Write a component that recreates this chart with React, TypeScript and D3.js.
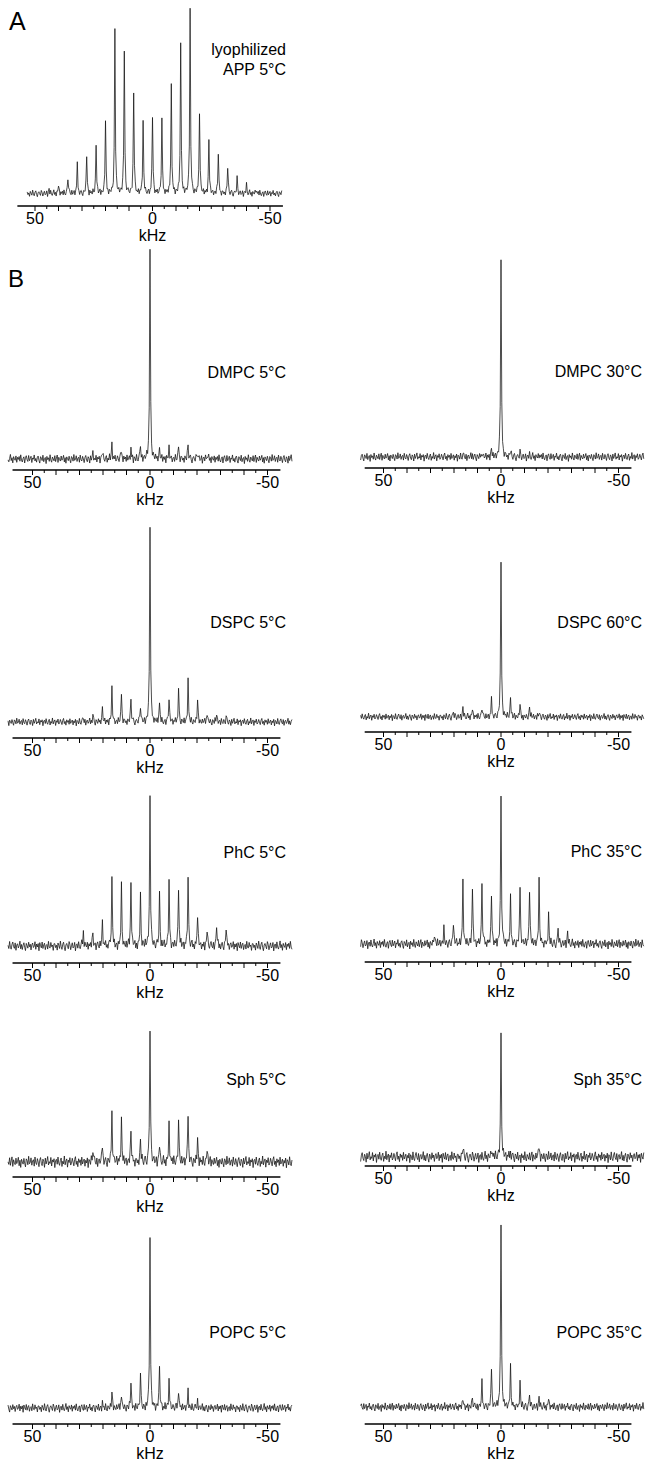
import React from "react";
import * as d3 from "d3";

// Sideband orders (n), frequency = n * spinning rate (kHz)
const sidebandOrders = [11, 10, 9, 8, 7, 6, 5, 4, 3, 2, 1, 0, -1, -2, -3, -4, -5, -6, -7, -8, -9, -10, -11];

// Relative sideband intensities (% of the tallest line in each spectrum), order 11 ... -11
const appLyophilized5 = [2, 4.5, 9, 15.5, 21, 26, 39, 89, 78, 55, 39, 42, 40, 58.5, 81, 100, 44.5, 29, 22, 14.5, 8, 4.5, 2];
const dmpc5 = [0, 0, 0, 0, 0, 2, 3, 7, 4, 5, 6, 100, 4, 5, 6, 7, 3, 2, 0, 0, 0, 0, 0];
const dmpc30 = [0, 0, 0, 0, 0, 0, 0, 1, 1, 2, 4, 100, 3, 2, 1, 1, 0, 0, 0, 0, 0, 0, 0];
const dspc5 = [0, 0, 0, 0, 2, 3.6, 6.6, 16.8, 14.2, 11.7, 8.1, 100, 9.6, 12.2, 16.2, 21.2, 10.7, 5.1, 3.6, 2.5, 0, 0, 0];
const dspc60 = [0, 0, 0, 0, 0, 0, 3.2, 5.7, 5.1, 6.4, 10.8, 100, 12.1, 7.6, 5.7, 3.2, 0, 0, 0, 0, 0, 0, 0];
const phc5 = [0, 0, 0, 0, 9.5, 9.5, 15.6, 45, 40, 43, 34, 100, 35, 43.5, 40, 47, 21, 11, 13.6, 12.2, 0, 0, 0];
const phc35 = [0, 0, 0, 0, 7.4, 10, 15.4, 41.6, 37.6, 40.3, 32.9, 100, 30.2, 38.3, 37.6, 41.6, 19.5, 10.7, 7.4, 0, 0, 0, 0];
const sph5 = [0, 0, 0, 0, 0, 9.7, 12.7, 36.6, 30.6, 23.9, 16.4, 100, 12.7, 27.6, 29.9, 35.8, 17.9, 9.7, 0, 0, 0, 0, 0];
const sph35 = [0, 0, 0, 0, 0, 0, 0, 8, 0, 0, 5.8, 100, 4.2, 0, 0, 10, 0, 0, 0, 0, 0, 0, 0];
const popc5 = [0, 0, 0, 0, 0, 0, 3, 8.8, 8.8, 14.7, 19.4, 100, 24.7, 16.5, 10.6, 10, 4.1, 0, 0, 0, 0, 0, 0];
const popc35 = [0, 0, 0, 0, 0, 0, 0, 4.3, 5.4, 12.9, 20.4, 100, 21, 12.9, 6.5, 4.8, 4.8, 0, 0, 0, 0, 0, 0];

// Baseline noise record (normalised), reused with a different start per spectrum
const baselineNoise = [
  0.42, -0.31, 0.15, -0.78, 0.56, 0.08, -0.47, 0.91, -0.12, -0.64,
  0.33, 0.71, -0.25, -0.89, 0.18, 0.47, -0.06, -0.53, 0.82, 0.27,
  -0.71, 0.04, 0.59, -0.38, -0.15, 0.66, -0.92, 0.21, 0.38, -0.44,
  0.77, -0.19, -0.58, 0.12, 0.95, -0.33, 0.26, -0.81, 0.49, 0.03,
  -0.27, 0.64, -0.69, 0.35, -0.09, 0.52, -0.46, 0.87, -0.21, -0.62,
  0.14, 0.45, -0.83, 0.29, 0.68, -0.17, -0.51, 0.73, -0.36, 0.09,
  0.57, -0.74, 0.22, -0.05, 0.84, -0.41, 0.11, -0.66, 0.39, 0.61,
  -0.28, -0.85, 0.48, 0.17, -0.34, 0.79, -0.57, 0.06, 0.32, -0.96,
  0.54, -0.13, 0.25, -0.49, 0.88, -0.23, -0.67, 0.41, 0.02, -0.39,
  0.69, -0.54, 0.19, 0.83, -0.72, 0.36, -0.11, -0.43, 0.62, -0.26,
  0.13, 0.76, -0.61, 0.28, -0.88, 0.44, 0.07, -0.35, 0.58, -0.18,
  -0.79, 0.51, 0.24, -0.45, 0.93, -0.29, -0.07, 0.67, -0.52, 0.16,
  0.37, -0.68, 0.81, -0.14, -0.42, 0.55, 0.01, -0.76, 0.31, 0.72,
  -0.22, -0.59, 0.46, 0.1, -0.87, 0.63, -0.32, 0.2, 0.89, -0.48,
  0.05, -0.24, 0.74, -0.65, 0.34, -0.02, 0.53, -0.91, 0.23, 0.43,
  -0.37, 0.8, -0.16, -0.55, 0.27, 0.65, -0.73, 0.12, -0.3, 0.97,
  -0.46, 0.18, 0.5, -0.84, 0.3, -0.1, 0.7, -0.5, -0.2, 0.6,
  0.0, -0.63, 0.4, 0.86, -0.4, 0.15, -0.77, 0.52, -0.08, 0.35,
  -0.56, 0.78, -0.33, 0.09, 0.47, -0.7, 0.26, -0.18, 0.64, -0.94,
  0.38, 0.11, -0.48, 0.85, -0.27, -0.6, 0.32, 0.75, -0.13, -0.44,
  0.58, -0.81, 0.19, 0.42, -0.36, 0.04, 0.9, -0.53, 0.28, -0.66,
  0.14, 0.61, -0.23, -0.86, 0.49, 0.08, -0.41, 0.71, -0.15, 0.33,
  -0.74, 0.22, 0.56, -0.29, -0.05, 0.8, -0.62, 0.37, -0.19, 0.45,
  -0.9, 0.63, 0.06, -0.35, 0.74, -0.47, 0.2, 0.52, -0.69, 0.1,
  0.29, -0.58, 0.87, -0.24, -0.4, 0.66, -0.12, 0.17, -0.83, 0.44,
];

// Axis ticks (kHz)
const tickValues = [50, 45, 40, 35, 30, 25, 20, 15, 10, 5, 0, -5, -10, -15, -20, -25, -30, -35, -40, -45, -50];
const tickLabels = [50, 0, -50];

const FONT = "'Liberation Sans', Arial, Helvetica, sans-serif";

// number of acquisition points per sideband spacing
const POINTS_PER_SIDEBAND = 12;

type Panel = {
  title: string[];
  values: number[];
  spin: number;
  gamma: number;
  noise: number;
  noiseStart: number;
  x50: number;
  xm50: number;
  baseY: number;
  topY: number;
  axisY: number;
  trace: [number, number];
  axis: [number, number];
  titleX: number;
  titleY: number;
};

const LEFT = { x50: 32.5, xm50: 267.5, titleX: 286 };
const RIGHT = { x50: 383.5, xm50: 618.5, titleX: 642 };

const panels: Panel[] = [
  { title: ["lyophilized", "APP 5°C"], values: appLyophilized5, spin: 4.0, gamma: 0.2, noise: 2.0, noiseStart: 0,
    x50: 35, xm50: 270, baseY: 193.5, topY: 10, axisY: 206, trace: [53.5, -55], axis: [57.5, -55.5], titleX: 286, titleY: 55 },
  { title: ["DMPC 5°C"], values: dmpc5, spin: 4.05, gamma: 0.2, noise: 2.3, noiseStart: 31, ...LEFT,
    baseY: 459, topY: 250, axisY: 470, trace: [60.5, -60.5], axis: [58.5, -55.5], titleY: 378 },
  { title: ["DMPC 30°C"], values: dmpc30, spin: 4.05, gamma: 0.2, noise: 2.3, noiseStart: 67, ...RIGHT,
    baseY: 457, topY: 258, axisY: 468, trace: [60, -61], axis: [58, -55.5], titleY: 377 },
  { title: ["DSPC 5°C"], values: dspc5, spin: 4.05, gamma: 0.2, noise: 2.1, noiseStart: 103, ...LEFT,
    baseY: 722, topY: 525, axisY: 738, trace: [60.5, -60.5], axis: [58.5, -55.5], titleY: 628 },
  { title: ["DSPC 60°C"], values: dspc60, spin: 4.05, gamma: 0.2, noise: 2.5, noiseStart: 149, ...RIGHT,
    baseY: 717, topY: 560, axisY: 732, trace: [60, -61], axis: [58, -55.5], titleY: 628 },
  { title: ["PhC 5°C"], values: phc5, spin: 4.05, gamma: 0.2, noise: 3.6, noiseStart: 191, ...LEFT,
    baseY: 946, topY: 798, axisY: 963, trace: [60.5, -60.5], axis: [58.5, -55.5], titleY: 858 },
  { title: ["PhC 35°C"], values: phc35, spin: 4.05, gamma: 0.2, noise: 3.5, noiseStart: 17, ...RIGHT,
    baseY: 944, topY: 795, axisY: 962, trace: [60, -61], axis: [58, -55.5], titleY: 857 },
  { title: ["Sph 5°C"], values: sph5, spin: 4.05, gamma: 0.2, noise: 4.6, noiseStart: 88, ...LEFT,
    baseY: 1162, topY: 1028, axisY: 1177, trace: [60.5, -60.5], axis: [58.5, -55.5], titleY: 1085 },
  { title: ["Sph 35°C"], values: sph35, spin: 4.05, gamma: 0.2, noise: 5.0, noiseStart: 127, ...RIGHT,
    baseY: 1157, topY: 1037, axisY: 1166, trace: [60, -61], axis: [58, -55.5], titleY: 1085 },
  { title: ["POPC 5°C"], values: popc5, spin: 4.05, gamma: 0.2, noise: 2.8, noiseStart: 211, ...LEFT,
    baseY: 1408, topY: 1238, axisY: 1424, trace: [60.5, -60.5], axis: [58.5, -55.5], titleY: 1338 },
  { title: ["POPC 35°C"], values: popc35, spin: 4.05, gamma: 0.2, noise: 2.5, noiseStart: 53, ...RIGHT,
    baseY: 1407, topY: 1221, axisY: 1424, trace: [60, -61], axis: [58, -55.5], titleY: 1338 },
];

function spectrumPoints(p: Panel) {
  const step = p.spin / POINTS_PER_SIDEBAND;
  const iFrom = Math.ceil(p.trace[1] / step);
  const iTo = Math.floor(p.trace[0] / step);
  const pts: { f: number; v: number }[] = [];
  const g2 = p.gamma * p.gamma;
  for (let i = iTo; i >= iFrom; i--) {
    const f = i * step;
    let v = 0;
    sidebandOrders.forEach((n, k) => {
      const a = p.values[k];
      if (!a) return;
      const d = f - n * p.spin;
      v += (a * g2) / (d * d + g2);
    });
    const nz = baselineNoise[(iTo - i + p.noiseStart) % baselineNoise.length];
    pts.push({ f, v: v + nz * p.noise });
  }
  return pts;
}

function Spectrum({ p }: { p: Panel }) {
  const x = d3.scaleLinear().domain([50, -50]).range([p.x50, p.xm50]);
  const y = d3.scaleLinear().domain([0, 100]).range([p.baseY, p.topY]);
  const line = d3
    .line<{ f: number; v: number }>()
    .x((d) => x(d.f))
    .y((d) => y(d.v));
  const pts = spectrumPoints(p);
  return (
    <g>
      <path d={line(pts) || ""} fill="none" stroke="#111" strokeWidth={0.75} strokeLinejoin="round" />
      <line x1={x(p.axis[0])} x2={x(p.axis[1])} y1={p.axisY} y2={p.axisY} stroke="#000" strokeWidth={1.3} />
      {tickValues.map((t) => (
        <line
          key={t}
          x1={x(t)}
          x2={x(t)}
          y1={p.axisY}
          y2={p.axisY + (t % 10 === 0 ? 5 : 3)}
          stroke="#000"
          strokeWidth={1}
        />
      ))}
      {tickLabels.map((t) => (
        <text key={t} x={x(t)} y={p.axisY + 18} textAnchor="middle" fontSize={16} fontFamily={FONT} fill="#000">
          {t}
        </text>
      ))}
      <text x={x(0)} y={p.axisY + 35} textAnchor="middle" fontSize={16} fontFamily={FONT} fill="#000">
        kHz
      </text>
      {p.title.map((s, k) => (
        <text key={s} x={p.titleX} y={p.titleY + k * 20} textAnchor="end" fontSize={16} fontFamily={FONT} fill="#000">
          {s}
        </text>
      ))}
    </g>
  );
}

export default function App() {
  return (
    <svg
      width={646}
      height={1464}
      viewBox="0 0 646 1464"
      style={{ position: "absolute", left: 0, top: 0, background: "#fff" }}
    >
      <rect x={0} y={0} width={646} height={1464} fill="#fff" />
      <text x={9} y={30} fontSize={25} fontFamily={FONT} fill="#000">A</text>
      <text x={8} y={287} fontSize={24} fontFamily={FONT} fill="#000">B</text>
      {panels.map((p, i) => (
        <Spectrum key={i} p={p} />
      ))}
    </svg>
  );
}
